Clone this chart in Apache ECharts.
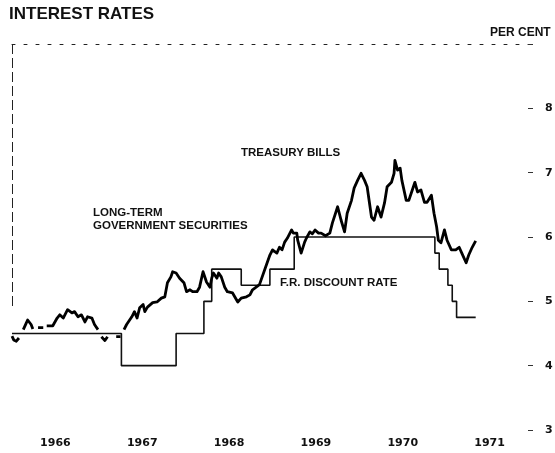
<!DOCTYPE html>
<html>
<head>
<meta charset="utf-8">
<script src="https://cdn.jsdelivr.net/npm/echarts@6/dist/echarts.min.js"></script>
<style>
  html, body { margin: 0; padding: 0; background: #fff; }
  #chart { width: 555px; height: 453px; }
</style>
</head>
<body>
<div id="chart"></div>
<script>
// long-term government securities (null = break in the printed line)
const ltYears = [
  1966.00, 1966.02, 1966.05, 1966.08, 1966.10, 1966.13, 1966.16, 1966.18, 1966.22, 1966.24,
  1966.27, 1966.30, 1966.36, 1966.38, 1966.40, 1966.47, 1966.52, 1966.55, 1966.59, 1966.64,
  1966.69, 1966.72, 1966.76, 1966.80, 1966.84, 1966.87, 1966.92, 1966.95, 1966.99, 1967.01,
  1967.03, 1967.07, 1967.10, 1967.15, 1967.20, 1967.22, 1967.25, 1967.27, 1967.29, 1967.32,
  1967.38, 1967.41, 1967.44, 1967.47, 1967.51, 1967.53, 1967.56, 1967.62, 1967.67, 1967.72,
  1967.76, 1967.79, 1967.83, 1967.85, 1967.89, 1967.93, 1967.98, 1968.01, 1968.05, 1968.08,
  1968.13, 1968.16, 1968.20, 1968.22, 1968.24, 1968.28, 1968.30, 1968.32, 1968.36, 1968.38,
  1968.41, 1968.45, 1968.48, 1968.54, 1968.60, 1968.64, 1968.70, 1968.74, 1968.77, 1968.85,
  1968.91, 1968.97, 1969.00, 1969.05, 1969.08, 1969.11, 1969.14, 1969.17, 1969.22, 1969.24,
  1969.28, 1969.29, 1969.33, 1969.37, 1969.39, 1969.43, 1969.46, 1969.49, 1969.53, 1969.56,
  1969.61, 1969.66, 1969.69, 1969.75, 1969.79, 1969.83, 1969.86, 1969.91, 1969.94, 1969.98,
  1970.02, 1970.06, 1970.09, 1970.14, 1970.17, 1970.21, 1970.25, 1970.29, 1970.32, 1970.37,
  1970.40, 1970.41, 1970.44, 1970.47, 1970.49, 1970.54, 1970.57, 1970.61, 1970.64, 1970.67,
  1970.71, 1970.75, 1970.78, 1970.83, 1970.86, 1970.89, 1970.91, 1970.94, 1970.98, 1971.01,
  1971.06, 1971.11, 1971.15, 1971.18, 1971.23, 1971.26, 1971.30, 1971.34
];
const ltValues = [
  4.46, 4.40, 4.38, 4.43, null, 4.56, 4.65, 4.71, 4.64, 4.57,
  null, 4.59, 4.59, null, 4.62, 4.62, 4.74, 4.79, 4.74, 4.87,
  4.82, 4.84, 4.76, 4.79, 4.68, 4.76, 4.74, 4.64, 4.56, null,
  4.45, 4.39, 4.45, null, 4.45, 4.48, 4.45, null, 4.56, 4.64,
  4.76, 4.84, 4.74, 4.90, 4.95, 4.84, 4.91, 4.98, 4.99, 5.05,
  5.07, 5.29, 5.38, 5.46, 5.44, 5.36, 5.29, 5.15, 5.18, 5.15,
  5.15, 5.22, 5.46, 5.44, 5.30, 5.22, 5.36, 5.44, 5.36, 5.44,
  5.38, 5.22, 5.15, 5.13, 4.99, 5.05, 5.07, 5.10, 5.18, 5.26,
  5.49, 5.72, 5.80, 5.75, 5.84, 5.80, 5.92, 5.98, 6.11, 6.06,
  6.06, 5.95, 5.75, 5.92, 5.98, 6.08, 6.05, 6.11, 6.06, 6.06,
  6.02, 6.06, 6.22, 6.47, 6.26, 6.08, 6.37, 6.57, 6.76, 6.88,
  6.99, 6.88, 6.78, 6.31, 6.26, 6.47, 6.31, 6.53, 6.78, 6.85,
  6.99, 7.19, 7.04, 7.07, 6.88, 6.57, 6.57, 6.73, 6.85, 6.70,
  6.73, 6.54, 6.54, 6.65, 6.37, 6.16, 5.95, 5.91, 6.11, 5.95,
  5.80, 5.80, 5.84, 5.75, 5.60, 5.72, 5.84, 5.94
];

// F.R. discount rate, value holds from each date to the next
const drYears = [1966.00, 1967.26, 1967.89, 1968.21, 1968.30, 1968.64, 1968.97, 1969.25, 1970.87, 1970.92, 1971.02, 1971.07, 1971.12, 1971.34];
const drValues = [4.5, 4.0, 4.5, 5.0, 5.5, 5.25, 5.5, 6.0, 5.75, 5.5, 5.25, 5.0, 4.75, 4.75];

const yearLabels = ['1966', '1967', '1968', '1969', '1970', '1971'];
const pctTicks = [3, 4, 5, 6, 7, 8];

const ltData = ltYears.map((t, i) => [t, ltValues[i] === null ? '-' : ltValues[i]]);
const drData = drYears.map((t, i) => [t, drValues[i]]);

const boldText = { fontFamily: 'Liberation Sans', fontWeight: 'bold', fill: '#111' };

const chart = echarts.init(document.getElementById('chart'));
chart.setOption({
  backgroundColor: '#fff',
  animation: false,
  title: {
    text: 'INTEREST RATES',
    left: 9, top: 6, padding: 0,
    textStyle: { fontFamily: 'Liberation Sans', fontWeight: 'bold', fontSize: 17, color: '#111' }
  },
  grid: { left: 12, right: 22, top: 44, bottom: 23, outerBoundsMode: 'none' },
  xAxis: [{
    type: 'value', min: 1966, max: 1972, interval: 0.5,
    axisLine: { show: false }, axisTick: { show: false }, splitLine: { show: false },
    axisLabel: {
      margin: 8, color: '#111', fontFamily: 'DejaVu Sans', fontWeight: 'bold', fontSize: 11,
      formatter: v => {
        const i = Math.round(v - 1966.5);
        return (Math.abs(v - 1966.5 - i) < 0.01 && yearLabels[i]) ? yearLabels[i] : '';
      }
    }
  }, {
    type: 'value', position: 'top', min: 1966, max: 1972,
    axisLine: { show: true, lineStyle: { color: '#222', width: 1, type: [3, 9] } },
    axisTick: { show: false }, axisLabel: { show: false }, splitLine: { show: false }
  }],
  yAxis: {
    type: 'value', position: 'right', min: 3, max: 9, interval: 1,
    axisLine: { show: false },
    axisTick: { show: true, inside: true, length: 5, lineStyle: { color: '#333', width: 1 } },
    splitLine: { show: false },
    axisLabel: {
      margin: 12, color: '#111', fontFamily: 'DejaVu Sans', fontWeight: 'bold', fontSize: 11,
      formatter: v => pctTicks.indexOf(v) >= 0 ? String(v) : ''
    }
  },
  graphic: [
    { type: 'text', left: 490, top: 27, style: Object.assign({ text: 'PER CENT', fontSize: 12 }, boldText) },
    { type: 'text', left: 241, top: 147, style: Object.assign({ text: 'TREASURY BILLS', fontSize: 11.5 }, boldText) },
    { type: 'text', left: 93, top: 207, style: Object.assign({ text: 'LONG-TERM', fontSize: 11.5 }, boldText) },
    { type: 'text', left: 93, top: 220, style: Object.assign({ text: 'GOVERNMENT SECURITIES', fontSize: 11.5 }, boldText) },
    { type: 'text', left: 280, top: 277, style: Object.assign({ text: 'F.R. DISCOUNT RATE', fontSize: 11.5 }, boldText) }
  ],
  series: [{
    name: 'F.R. discount rate',
    type: 'line',
    step: 'end',
    data: drData,
    symbol: 'none',
    lineStyle: { color: '#111', width: 1.6 },
    markLine: {
      silent: true, symbol: 'none', label: { show: false },
      lineStyle: { color: '#222', width: 1, type: [10, 4] },
      data: [[{ coord: [1966, 9] }, { coord: [1966, 4.9] }]]
    }
  }, {
    name: 'Long-term government securities',
    type: 'line',
    data: ltData,
    symbol: 'none',
    connectNulls: false,
    lineStyle: { color: '#000', width: 2.8, join: 'round' }
  }]
});
</script>
</body>
</html>
